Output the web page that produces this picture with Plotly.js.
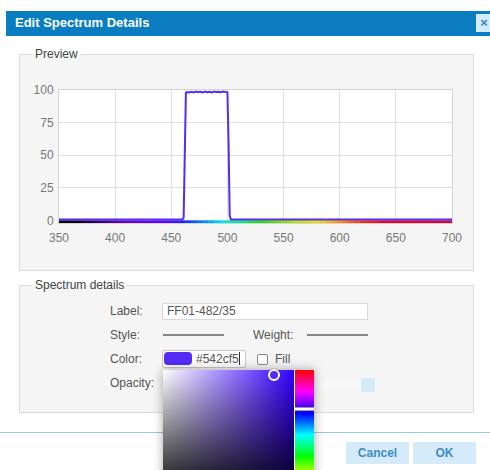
<!DOCTYPE html>
<html>
<head>
<meta charset="utf-8">
<script src="https://cdn.plot.ly/plotly-3.0.1.min.js"></script>
<style>
  html, body { margin:0; padding:0; width:490px; height:470px; overflow:hidden; background:#fff;
    font-family: "Liberation Sans", Arial, sans-serif; }
  .abs { position:absolute; }
  .titlebar { left:6px; top:11px; width:490px; height:25px; background:#0a7dc1; }
  .titletext { left:15px; top:15px; color:#fff; font-weight:bold; font-size:13px; }
  .closebtn { left:476px; top:14px; width:16px; height:18px; background:#d6ebf8; color:#2f86c6;
    font-weight:bold; font-size:13px; line-height:18px; text-align:center; }
  .fs { border:1px solid #dcdcdc; background:#f5f5f5; box-sizing:border-box; }
  .legend { font-size:12px; color:#444; padding:0 3px; background:linear-gradient(#fff 50%, #f5f5f5 50%); line-height:14px; }
  .lbl { font-size:12px; color:#555; }
  .inp { background:#fff; border:1px solid #d8d8d8; box-sizing:border-box; font-size:12px; color:#555; }
  .btn { background:#d5ebfa; color:#3d8dc8; font-weight:bold; font-size:12px; text-align:center; line-height:22px; }
</style>
</head>
<body>
<div class="abs titlebar"></div>
<div class="abs titletext">Edit Spectrum Details</div>
<div class="abs closebtn">×</div>

<div class="abs fs" style="left:19px; top:54px; width:455px; height:217px;"></div>
<div class="abs legend" style="left:32px; top:47px;">Preview</div>
<div id="plot" class="abs" style="left:20px; top:66px; width:453px; height:195px;"></div>

<div class="abs fs" style="left:19px; top:285px; width:455px; height:128px;"></div>
<div class="abs legend" style="left:32px; top:278px;">Spectrum details</div>

<div class="abs lbl" style="left:110px; top:304px;">Label:</div>
<div class="abs inp" style="left:162px; top:303px; width:206px; height:17px; padding-left:4px; line-height:15px;">FF01-482/35</div>

<div class="abs lbl" style="left:110px; top:328px;">Style:</div>
<div class="abs" style="left:163px; top:334px; width:61px; height:1.5px; background:#888;"></div>
<div class="abs lbl" style="left:253px; top:328px;">Weight:</div>
<div class="abs" style="left:307px; top:334px; width:61px; height:1.5px; background:#888;"></div>

<div class="abs lbl" style="left:110px; top:352px;">Color:</div>
<div class="abs inp" style="left:162px; top:350px; width:84px; height:18px; border-color:#c8c8c8; border-radius:2px;"></div>
<div class="abs" style="left:164px; top:352px; width:28px; height:13px; background:#542cf5; border-radius:4px;"></div>
<div class="abs lbl" style="left:196px; top:352px;">#542cf5<span style="display:inline-block;width:1px;height:13px;background:#333;vertical-align:-2px;"></span></div>
<div class="abs" style="left:257px; top:354px; width:11px; height:11px; border:1px solid #888; border-radius:2px; background:#fff; box-sizing:border-box;"></div>
<div class="abs lbl" style="left:275px; top:352px;">Fill</div>

<div class="abs lbl" style="left:110px; top:376px;">Opacity:</div>
<div class="abs" style="left:313px; top:379px; width:50px; height:11px; background:#f7f7f7;"></div>
<div class="abs" style="left:361px; top:378px; width:14px; height:14px; background:#d5eaf8;"></div>

<div class="abs" style="left:0px; top:432px; width:490px; height:1px; background:#9cc7dd;"></div>
<div class="abs btn" style="left:346px; top:442px; width:63px; height:22px;">Cancel</div>
<div class="abs btn" style="left:413px; top:442px; width:63px; height:22px;">OK</div>

<!-- colour picker popup -->
<div class="abs" style="left:163px; top:370px; width:151px; height:130px; box-shadow:0 0 10px rgba(0,0,0,0.35); background:#fff;"></div>
<div class="abs" style="left:163px; top:370px; width:131px; height:130px;
   background:linear-gradient(to top, #000, rgba(0,0,0,0)), linear-gradient(to right, #fff, hsl(252,100%,50%));"></div>
<div class="abs" style="left:295px; top:370px; width:19px; height:130px;
   background:linear-gradient(to bottom, #f00 0%, #f0f 16.7%, #00f 33.3%, #0ff 50%, #0f0 66.7%, #ff0 83.3%, #f00 100%);"></div>
<div class="abs" style="left:295px; top:407px; width:19px; height:2px; background:#fff; border-top:1px solid #999; border-bottom:1px solid #999;"></div>
<div class="abs" style="left:268px; top:369px; width:8px; height:8px; border:2px solid #fff; border-radius:50%; background:#542cf5; box-shadow:0 0 1px #333;"></div>

<script>
// Spectrum (FF01-482/35) transmission
var wavelength = [350, 400, 450, 460, 461, 462, 463, 464, 466, 468, 470, 472, 474, 476, 478, 480,
                  482, 484, 486, 488, 490, 492, 494, 496, 498, 500, 501, 502, 503, 550, 600, 650, 700];
var transmission = [0.6, 0.6, 0.6, 0.7, 2, 45, 97.8, 98.4, 98.1, 98.7, 98.2, 98.8, 98.3, 98.7, 98.2, 98.8,
                    98.3, 98.7, 98.2, 98.8, 98.4, 98.7, 98.3, 98.8, 98.6, 98.2, 60, 4, 0.6, 0.6, 0.6, 0.6, 0.6];

// Visible-spectrum strip under the axis
var stripWl = [350,355,360,365,370,375,380,385,390,395,400,405,410,415,420,425,430,435,440,445,
               450,455,460,465,470,475,480,485,490,495,500,505,510,515,520,525,530,535,540,545,
               550,555,560,565,570,575,580,585,590,595,600,605,610,615,620,625,630,635,640,645,
               650,655,660,665,670,675,680,685,690,695,700];
var stripStopWl    = [350, 365, 385, 410, 440, 460, 480, 495, 510, 530, 560, 580, 600, 620, 640, 700];
var stripStopColor = ['#000000','#0d0010','#3a0060','#7000c0','#6a00ff','#2020ff','#0090ff','#00e8f0',
                      '#00f080','#20e000','#b0e800','#f0e000','#ff9000','#ff3000','#f00020','#e00030'];

var xTicks = [350, 400, 450, 500, 550, 600, 650, 700];
var yTicks = [0, 25, 50, 75, 100];

var colorscale = stripStopWl.map(function (w, i) {
  return [(w - 350) / 350, stripStopColor[i]];
});

var traces = [
  {
    type: 'heatmap', x: stripWl, z: [stripWl], y0: -1, dy: 2,
    zmin: 350, zmax: 700, colorscale: colorscale, showscale: false, hoverinfo: 'skip'
  },
  {
    type: 'scatter', mode: 'lines', x: wavelength, y: transmission,
    line: { color: '#542cf5', width: 2 }, hoverinfo: 'skip'
  }
];

var axisFont = { family: '"Liberation Sans", Arial, sans-serif', size: 12, color: '#777' };

var layout = {
  width: 453, height: 195,
  margin: { l: 39, r: 21, t: 24, b: 38 },
  paper_bgcolor: 'rgba(0,0,0,0)',
  plot_bgcolor: '#ffffff',
  showlegend: false,
  xaxis: {
    range: [350, 700], tickvals: xTicks, ticktext: xTicks.map(String),
    showgrid: true, gridcolor: '#e0e0e0', zeroline: false,
    showline: true, linecolor: '#d4d4d4', mirror: true,
    ticks: 'outside', ticklen: 4, tickcolor: 'rgba(0,0,0,0)',
    tickfont: axisFont, fixedrange: true
  },
  yaxis: {
    range: [-2, 100], tickvals: yTicks, ticktext: yTicks.map(String),
    showgrid: true, gridcolor: '#e0e0e0', zeroline: false,
    showline: true, linecolor: '#d4d4d4', mirror: true,
    ticks: 'outside', ticklen: 2, tickcolor: 'rgba(0,0,0,0)',
    tickfont: axisFont, fixedrange: true
  }
};

Plotly.newPlot('plot', traces, layout, { displayModeBar: false, staticPlot: true });
</script>
</body>
</html>
